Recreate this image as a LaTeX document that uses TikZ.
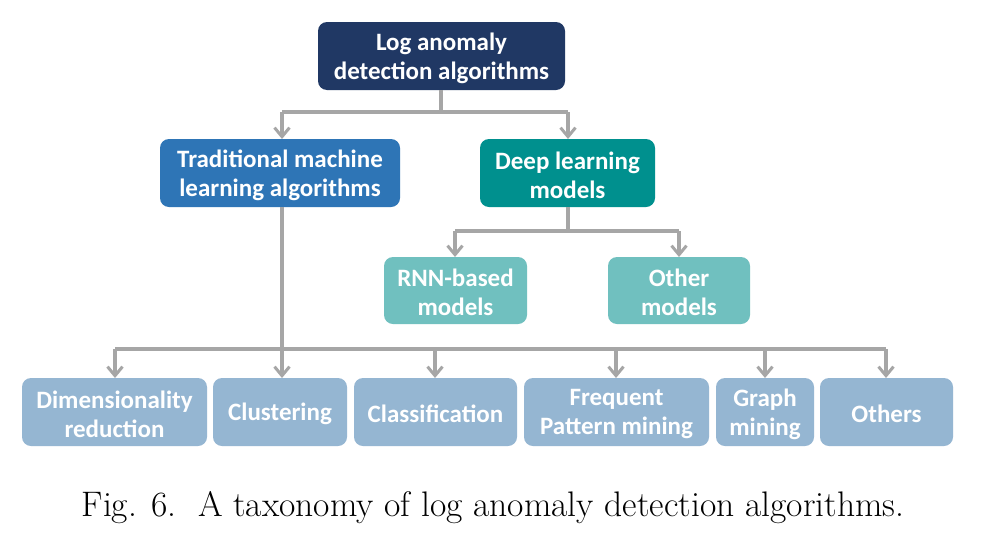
\documentclass[tikz,border=0pt]{standalone}
\usepackage{fontspec}
\usetikzlibrary{arrows.meta}
\newfontfamily\boxfont{Carlito}
\definecolor{navy}{HTML}{203864}
\definecolor{tradblue}{HTML}{2E75B6}
\definecolor{deepteal}{HTML}{00908E}
\definecolor{lightteal}{HTML}{70C0BF}
\definecolor{leafblue}{HTML}{95B6D2}
\definecolor{conn}{HTML}{A6A6A6}
\begin{document}
\begin{tikzpicture}[x=1pt,y=-1pt,
  tbox/.style={rounded corners=9pt, text=white, align=center, inner sep=0pt,
    font=\boxfont\bfseries\fontsize{25}{29}\selectfont},
  conline/.style={draw=conn, line width=3.2pt},
  conarrow/.style={conline, -{Straight Barb[length=9pt,width=15pt,line width=3pt]}}
]
\useasboundingbox (0,0) rectangle (1008,533);
\fill[white] (0,0) rectangle (1008,533);
% boxes
\newcommand\mybox[7]{%
  \fill[#6, rounded corners=9pt] (#2,#3) rectangle (#4,#5);
  \node[tbox] (#1) at ({(#2+#4)/2},{(#3+#5)/2+2}) {#7};}
\mybox{root}{318}{22}{565}{90}{navy}{Log anomaly\\detection algorithms}
\mybox{trad}{160}{139}{400}{207}{tradblue}{Traditional machine\\learning algorithms}
\mybox{deep}{480}{139}{655}{207}{deepteal}{Deep learning\\models}
\mybox{rnn}{384}{257}{527}{324}{lightteal}{RNN-based\\models}
\mybox{other}{608}{257}{750}{324}{lightteal}{Other\\models}
\mybox{dim}{22}{378}{207}{446}{leafblue}{Dimensionality\\reduction}
\mybox{clu}{213}{378}{347}{446}{leafblue}{Clustering}
\mybox{cla}{354}{378}{517}{446}{leafblue}{Classification}
\mybox{fpm}{524}{378}{709}{446}{leafblue}{Frequent\\Pattern mining}
\mybox{gm}{716}{378}{814}{446}{leafblue}{Graph\\mining}
\mybox{oth}{820}{378}{953}{446}{leafblue}{Others}
% coordinates for connectors
\coordinate (rj) at (441,112);
\coordinate (rl) at (282,112);
\coordinate (rr) at (568,112);
\coordinate (dj) at (568,231);
\coordinate (dl) at (455,231);
\coordinate (dr) at (679,231);
\coordinate (tj) at (282,349);
\coordinate (tl) at (115,349);
\coordinate (tr) at (886,349);
% root connectors
\draw[conline] (441,90) -- (rj);
\draw[conline] (rl) -- (rr);
\draw[conarrow] (rl) -- (282,139);
\draw[conarrow] (rr) -- (568,139);
% deep connectors
\draw[conline] (568,207) -- (dj);
\draw[conline] (dl) -- (dr);
\draw[conarrow] (dl) -- (455,257);
\draw[conarrow] (dr) -- (679,257);
% traditional connectors
\draw[conline] (282,207) -- (tj);
\draw[conline] (tl) -- (tr);
\draw[conarrow] (tl) -- (115,378);
\draw[conarrow] (tj) -- (282,378);
\draw[conarrow] (435,349) -- (435,378);
\draw[conarrow] (616,349) -- (616,378);
\draw[conarrow] (765,349) -- (765,378);
\draw[conarrow] (tr) -- (886,378);
% caption
\node[font=\fontsize{35.5}{40}\selectfont, anchor=base] (cap) at (493,516) {Fig. 6.\ \ A taxonomy of log anomaly detection algorithms.};
\end{tikzpicture}
\end{document}
